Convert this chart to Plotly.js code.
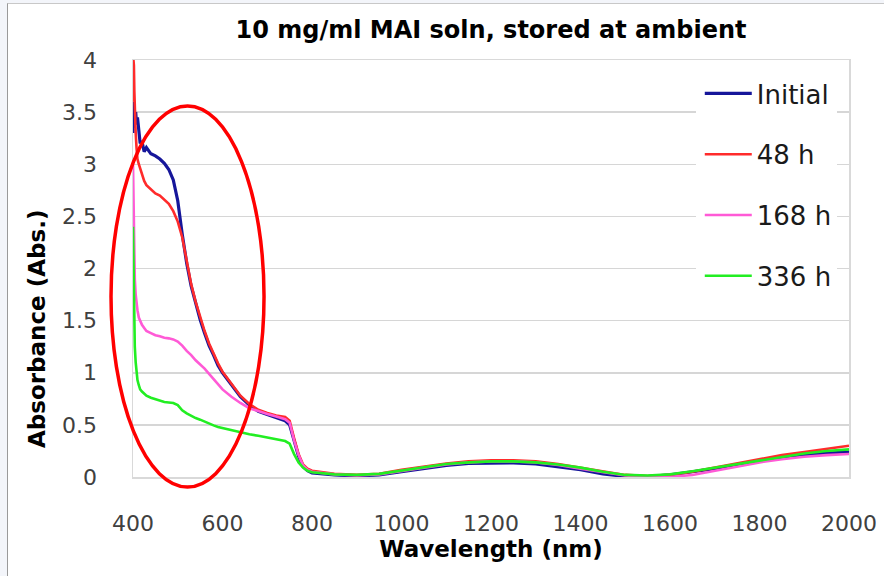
<!DOCTYPE html>
<html>
<head>
<meta charset="utf-8">
<script src="https://cdn.plot.ly/plotly-3.0.1.min.js"></script>
<style>
  html, body { margin: 0; padding: 0; background: #f3f5fa; width: 884px; height: 576px; overflow: hidden; }
  #frame { position: absolute; left: 7px; top: 3px; border-left: 1px solid #9a9a9a; border-top: 1px solid #c8c8c8; background: #fff; }
  #chart { width: 876px; height: 572px; }
</style>
</head>
<body>
<div id="frame"><div id="chart"></div></div>
<script>
// Wavelength (nm)
const wavelength = [400,401,402,403,404,406,408,410,413,416,420,425,430,440,450,460,470,480,490,500,
  510,520,530,540,550,560,570,580,590,600,620,640,660,680,700,720,740,750,760,770,780,790,800,
  850,900,950,1000,1050,1100,1150,1200,1250,1300,1350,1400,1450,1500,1550,1600,1650,1700,1750,1800,1850,1900,1950,2000];

const absInitial = [3.30,3.60,3.35,3.55,3.40,3.50,3.38,3.45,3.30,3.20,3.22,3.12,3.16,3.10,3.08,3.05,3.01,2.95,2.85,2.65,
  2.33,2.05,1.83,1.66,1.51,1.38,1.26,1.17,1.07,1.00,0.88,0.77,0.69,0.63,0.60,0.57,0.54,0.50,0.34,0.20,0.10,0.06,0.04,
  0.02,0.01,0.02,0.05,0.08,0.11,0.13,0.135,0.135,0.125,0.10,0.07,0.03,0.005,0.005,0.02,0.05,0.08,0.12,0.155,0.185,0.21,0.23,0.24];

const abs48h = [3.60,4.00,3.95,3.70,3.50,3.30,3.15,3.05,3.00,2.96,2.90,2.84,2.80,2.76,2.72,2.70,2.66,2.62,2.55,2.45,
  2.30,2.06,1.85,1.68,1.53,1.40,1.28,1.18,1.09,1.01,0.89,0.78,0.70,0.645,0.615,0.59,0.575,0.54,0.37,0.22,0.12,0.08,0.06,
  0.03,0.02,0.03,0.07,0.10,0.13,0.15,0.16,0.16,0.15,0.125,0.09,0.05,0.02,0.01,0.02,0.05,0.09,0.13,0.17,0.21,0.24,0.27,0.30];

const abs168h = [3.00,2.60,2.30,2.05,1.90,1.75,1.65,1.60,1.53,1.49,1.46,1.43,1.40,1.38,1.36,1.35,1.335,1.33,1.32,1.30,
  1.26,1.21,1.17,1.12,1.08,1.04,0.99,0.94,0.88,0.84,0.77,0.71,0.66,0.63,0.605,0.58,0.555,0.52,0.35,0.21,0.11,0.07,0.05,
  0.025,0.015,0.025,0.06,0.09,0.12,0.14,0.15,0.15,0.14,0.115,0.08,0.045,0.015,0.00,0.00,0.02,0.06,0.10,0.14,0.17,0.195,0.21,0.22];

const abs336h = [2.40,2.00,1.70,1.45,1.25,1.10,1.00,0.93,0.88,0.84,0.82,0.80,0.78,0.76,0.745,0.73,0.72,0.715,0.71,0.69,
  0.64,0.61,0.585,0.565,0.55,0.53,0.51,0.495,0.48,0.47,0.445,0.425,0.41,0.395,0.38,0.365,0.345,0.32,0.22,0.14,0.09,0.06,0.045,
  0.025,0.02,0.03,0.06,0.095,0.125,0.14,0.15,0.15,0.14,0.12,0.09,0.05,0.02,0.015,0.025,0.055,0.09,0.125,0.16,0.195,0.225,0.25,0.265];

const seriesNames = ["Initial", "48 h", "168 h", "336 h"];
const seriesValues = [absInitial, abs48h, abs168h, abs336h];
const seriesColors = ["#16169a", "#ff2b2b", "#ff5ad6", "#22ee22"];
const seriesWidths = [3.2, 2.6, 2.6, 2.6];

const xTicks = [400, 600, 800, 1000, 1200, 1400, 1600, 1800, 2000];
const yTicks = [0, 0.5, 1, 1.5, 2, 2.5, 3, 3.5, 4];

const traces = seriesNames.map((name, i) => ({
  type: "scatter",
  mode: "lines",
  name: name,
  x: wavelength,
  y: seriesValues[i],
  line: { color: seriesColors[i], width: seriesWidths[i] },
  legendgroup: "g" + i
}));

const tickFont = { family: "DejaVu Sans", size: 22, color: "#404040" };

const layout = {
  width: 876,
  height: 572,
  margin: { l: 125, r: 35, t: 56, b: 99 },
  paper_bgcolor: "#ffffff",
  plot_bgcolor: "#ffffff",
  showlegend: true,
  title: {
    text: "10 mg/ml MAI soln, stored at ambient",
    font: { family: "DejaVu Sans", size: 24, weight: "bold", color: "#000000" },
    x: 0.5, xref: "paper", xanchor: "center",
    y: 0.955, yref: "container", yanchor: "middle"
  },
  xaxis: {
    range: [400, 2000],
    tickvals: xTicks,
    ticktext: xTicks.map(String),
    showgrid: false,
    zeroline: false,
    showline: true,
    mirror: true,
    linecolor: "#d9d9d9",
    linewidth: 1.5,
    ticks: "",
    tickfont: tickFont,
    ticklabelstandoff: 26,
    title: {
      text: "Wavelength (nm)",
      font: { family: "DejaVu Sans", size: 23, weight: "bold", color: "#000000" },
      standoff: 4
    }
  },
  yaxis: {
    range: [0, 4],
    tickvals: yTicks,
    ticktext: yTicks.map(String),
    showgrid: true,
    gridcolor: "#d6d6d6",
    gridwidth: 1.5,
    zeroline: false,
    showline: true,
    mirror: true,
    linecolor: "#d9d9d9",
    linewidth: 1.5,
    ticks: "",
    tickfont: tickFont,
    ticklabelstandoff: 30
  },
  legend: {
    x: 0.786, xanchor: "left",
    y: 0.976, yanchor: "top",
    bgcolor: "#ffffff",
    borderwidth: 0,
    font: { family: "DejaVu Sans", size: 26, color: "#1a1a1a" },
    tracegroupgap: 24,
    itemwidth: 47,
    indentation: 4
  },
  annotations: [{
    text: "Absorbance (Abs.)",
    textangle: -90,
    xref: "paper", yref: "paper",
    x: -0.134, y: 0.355,
    xanchor: "center", yanchor: "middle",
    showarrow: false,
    font: { family: "DejaVu Sans", size: 23, weight: "bold", color: "#000000" }
  }],
  shapes: [{
    type: "circle",
    xref: "paper", yref: "paper",
    x0: -0.0307, x1: 0.183, y0: -0.024, y1: 0.8897,
    line: { color: "#ff0000", width: 3.5 },
    layer: "above"
  }]
};

Plotly.newPlot("chart", traces, layout, { displayModeBar: false, staticPlot: true });
</script>
</body>
</html>
